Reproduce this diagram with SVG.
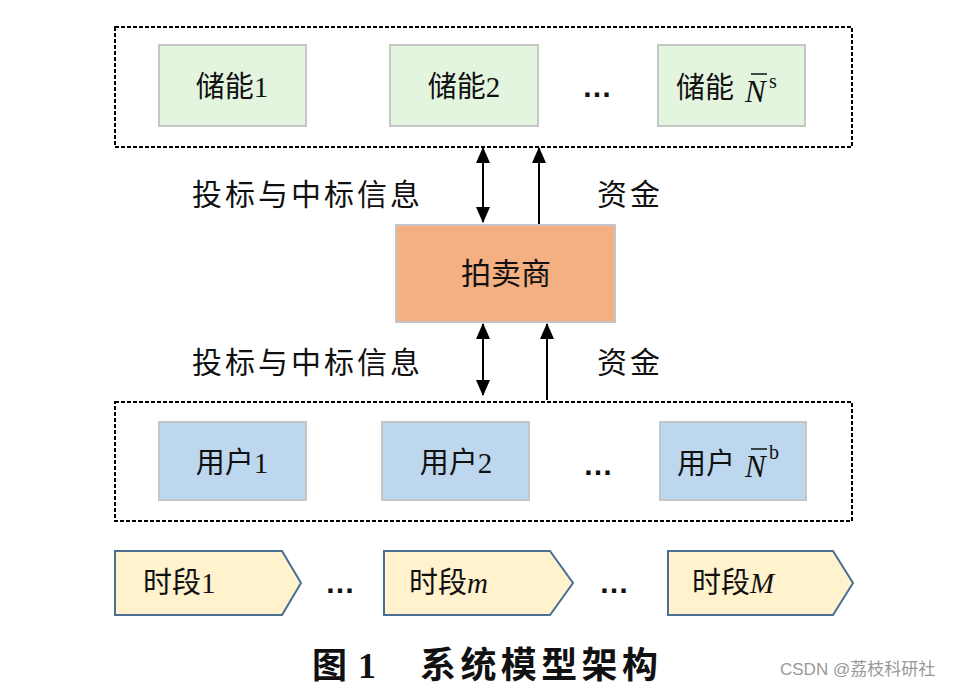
<svg xmlns="http://www.w3.org/2000/svg" width="978" height="691" viewBox="0 0 978 691">
<defs>
<marker id="ah" viewBox="0 0 16 14" refX="15" refY="7" markerWidth="16" markerHeight="14" markerUnits="userSpaceOnUse" orient="auto-start-reverse">
<path d="M0,0 L16,7 L0,14 Z" fill="#000"/>
</marker>
<style>
.t{font-family:"Liberation Serif","Noto Sans CJK SC",serif;font-size:29px;fill:#111;}
.lab{font-family:"Liberation Serif","Noto Sans CJK SC",serif;font-size:30px;fill:#111;}
.dash{fill:none;stroke:#000;stroke-width:2;stroke-dasharray:4 2;}
.store{fill:#E3F4DF;stroke:#C6C6C6;stroke-width:2;}
.user{fill:#BDD7EE;stroke:#C6C6C6;stroke-width:2;}
.auc{fill:#F4AF83;stroke:#C6C6C6;stroke-width:2;}
.seg{fill:#FFF2CC;stroke:#4A6F93;stroke-width:2;}
.arr{stroke:#000;stroke-width:2;fill:none;}
.dots{font-family:"Liberation Sans",sans-serif;font-weight:bold;font-size:30px;fill:#111;}
.bar{stroke:#111;stroke-width:1.5;}
.nn{font-family:"Liberation Serif",serif;font-style:italic;font-size:31px;fill:#111;}
.sup{font-family:"Liberation Serif",serif;font-size:20px;fill:#111;}
</style>
</defs>
<rect width="978" height="691" fill="#fff"/>

<g id="storage-group">
<rect class="dash" x="115" y="27" width="737" height="120"/>
</g>
<g id="storage1"><rect class="store" x="159" y="45" width="147" height="81"/><text class="t" x="232" y="97" text-anchor="middle">储能1</text></g>
<g id="storage2"><rect class="store" x="390" y="45" width="148" height="81"/><text class="t" x="464" y="97" text-anchor="middle">储能2</text></g>
<text class="dots" x="597" y="97" text-anchor="middle">…</text>
<g id="storageN"><rect class="store" x="658" y="45" width="147" height="81"/>
<text class="t" x="676" y="98">储能</text>
<text class="nn" x="745" y="102">N</text>
<line class="bar" x1="751" y1="74" x2="767" y2="74"/>
<text class="sup" x="769" y="88">s</text>
</g>

<g id="connectors">
<line class="arr" x1="483" y1="148" x2="483" y2="222" marker-start="url(#ah)" marker-end="url(#ah)"/>
<line class="arr" x1="539" y1="224" x2="539" y2="148" marker-end="url(#ah)"/>
<line class="arr" x1="483" y1="324" x2="483" y2="395" marker-start="url(#ah)" marker-end="url(#ah)"/>
<line class="arr" x1="547" y1="400" x2="547" y2="324" marker-end="url(#ah)"/>
</g>
<text class="lab" x="192" y="205" textLength="228">投标与中标信息</text>
<text class="lab" x="597" y="205" textLength="63">资金</text>
<text class="lab" x="192" y="373" textLength="228">投标与中标信息</text>
<text class="lab" x="597" y="373" textLength="63">资金</text>

<g id="auctioneer"><rect class="auc" x="396" y="225" width="219" height="97"/><text class="lab" x="506" y="284" text-anchor="middle">拍卖商</text></g>

<g id="user-group">
<rect class="dash" x="115" y="402" width="737" height="119"/>
</g>
<g id="user1"><rect class="user" x="159" y="422" width="147" height="78"/><text class="t" x="232" y="473" text-anchor="middle">用户1</text></g>
<g id="user2"><rect class="user" x="382" y="422" width="147" height="78"/><text class="t" x="456" y="473" text-anchor="middle">用户2</text></g>
<text class="dots" x="598" y="475" text-anchor="middle">…</text>
<g id="userN"><rect class="user" x="660" y="422" width="146" height="78"/>
<text class="t" x="677" y="474">用户</text>
<text class="nn" x="745" y="477">N</text>
<line class="bar" x1="751" y1="449" x2="767" y2="449"/>
<text class="sup" x="769" y="459">b</text>
</g>

<g id="seg1"><path class="seg" d="M115,551 L282,551 L301,583 L282,615 L115,615 Z"/><text class="t" x="143" y="593">时段1</text></g>
<text class="dots" x="340" y="593" text-anchor="middle">…</text>
<g id="segm"><path class="seg" d="M384,551 L550,551 L573,583 L550,615 L384,615 Z"/><text class="t" x="409" y="593">时段<tspan font-style="italic">m</tspan></text></g>
<text class="dots" x="614" y="593" text-anchor="middle">…</text>
<g id="segM"><path class="seg" d="M668,551 L833,551 L853,583 L833,615 L668,615 Z"/><text class="t" x="692" y="593">时段<tspan font-style="italic">M</tspan></text></g>

<text x="312" y="678" font-family="Noto Sans CJK SC,sans-serif" font-weight="bold" font-size="35" fill="#111">图</text>
<text x="358" y="678" font-family="Liberation Serif,serif" font-weight="bold" font-size="36" fill="#111">1</text>
<text x="420" y="678" font-family="Noto Sans CJK SC,sans-serif" font-weight="bold" font-size="36" fill="#111" textLength="238">系统模型架构</text>
<text x="780" y="675" font-family="Liberation Sans,Noto Sans CJK SC,sans-serif" font-size="17" fill="#999">CSDN @荔枝科研社</text>
</svg>
